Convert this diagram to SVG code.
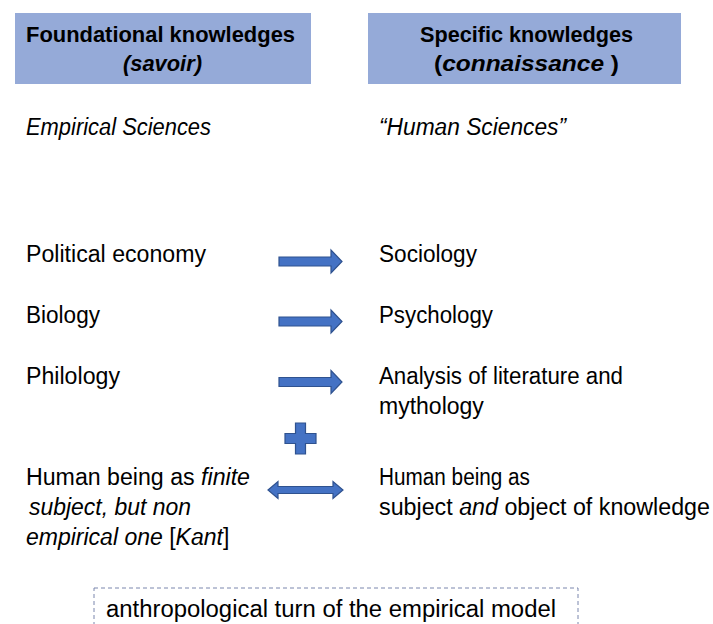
<svg xmlns="http://www.w3.org/2000/svg" width="713" height="624" viewBox="0 0 713 624">
<style>
text{font-family:"Liberation Sans",Arial,sans-serif;font-size:23px;fill:#000}
.h{font-weight:bold;font-size:22px}
.i{font-style:italic}
.box{fill:#95aad8}
.arr{fill:#4472c4;stroke:#2f528f;stroke-width:1.2}
</style>
<rect width="713" height="624" fill="#fff"/>
<g id="header-left">
<rect class="box" x="15" y="13" width="296" height="71"/>
<text class="h" x="26" y="42" textLength="269" lengthAdjust="spacingAndGlyphs">Foundational knowledges</text>
<text class="h i" x="123" y="71" textLength="79" lengthAdjust="spacingAndGlyphs">(savoir)</text>
</g>
<g id="header-right">
<rect class="box" x="368" y="13" width="313" height="71"/>
<text class="h" x="420" y="42" textLength="213" lengthAdjust="spacingAndGlyphs">Specific knowledges</text>
<text class="h" x="434" y="71" textLength="185" lengthAdjust="spacingAndGlyphs">(<tspan class="i">connaissance</tspan> )</text>
</g>
<g id="empirical"><text class="i" x="26" y="135" textLength="185" lengthAdjust="spacingAndGlyphs">Empirical Sciences</text></g>
<g id="human-sciences"><text class="i" x="379" y="135" textLength="187" lengthAdjust="spacingAndGlyphs">“Human Sciences”</text></g>
<g id="political-economy"><text x="26" y="262" textLength="180" lengthAdjust="spacingAndGlyphs">Political economy</text></g>
<g id="sociology"><text x="379" y="262" textLength="98" lengthAdjust="spacingAndGlyphs">Sociology</text></g>
<g id="biology"><text x="26" y="323" textLength="74" lengthAdjust="spacingAndGlyphs">Biology</text></g>
<g id="psychology"><text x="379" y="323" textLength="114" lengthAdjust="spacingAndGlyphs">Psychology</text></g>
<g id="philology"><text x="26" y="384" textLength="94" lengthAdjust="spacingAndGlyphs">Philology</text></g>
<g id="analysis"><text x="379" y="384" textLength="244" lengthAdjust="spacingAndGlyphs">Analysis of literature and</text><text x="379" y="414">mythology</text></g>
<g id="finite-subject">
<text x="26" y="485" textLength="224" lengthAdjust="spacingAndGlyphs">Human being as <tspan class="i">finite</tspan></text>
<text class="i" x="29" y="515" textLength="162" lengthAdjust="spacingAndGlyphs">subject, but non</text>
<text x="26" y="545" font-size="22.5"><tspan class="i">empirical one</tspan> [<tspan class="i">Kant</tspan>]</text>
</g>
<g id="subject-object">
<text x="379" y="485" textLength="151" lengthAdjust="spacingAndGlyphs">Human being as</text>
<text x="379" y="515" textLength="331" lengthAdjust="spacingAndGlyphs">subject <tspan class="i">and</tspan> object of knowledge</text>
</g>
<g id="anthropological-turn">
<rect x="94" y="588" width="484" height="60" fill="none" stroke="#7a86ad" stroke-width="1" stroke-dasharray="4,3"/>
<text x="106" y="617" textLength="450" lengthAdjust="spacingAndGlyphs">anthropological turn of the empirical model</text>
</g>
<g id="connectors">
<path class="arr" d="M279,257 H331 V250 L342,261.5 L331,273 V266 H279 Z"/>
<path class="arr" d="M279,317 H331 V310 L342,321.5 L331,333 V326 H279 Z"/>
<path class="arr" d="M279,377.5 H331 V370.5 L342,382 L331,393.5 V386.5 H279 Z"/>
<path class="arr" d="M295.5,423 H305.5 V433.5 H316 V443.5 H305.5 V454 H295.5 V443.5 H285 V433.5 H295.5 Z"/>
<path class="arr" d="M268,490 L278,481.5 V486.5 H333 V481.5 L343,490 L333,498.5 V493.5 H278 V498.5 Z"/>
</g>
</svg>
